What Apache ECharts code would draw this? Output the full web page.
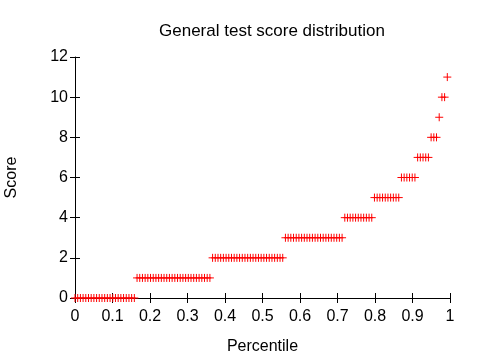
<!DOCTYPE html>
<html>
<head>
<meta charset="utf-8">
<script src="https://cdn.jsdelivr.net/npm/echarts@6/dist/echarts.min.js"></script>
<style>html,body{margin:0;padding:0;background:#fff}#c{width:480px;height:360px}</style>
</head>
<body>
<div id="c"></div>
<script>
// Number of test takers at each score
var scores = [0, 1, 2, 3, 4, 5, 6, 7, 8, 9, 10, 11];
var scoreCounts = [23, 28, 27, 22, 11, 10, 6, 5, 3, 1, 2, 1];
var xTicks = [0, 0.1, 0.2, 0.3, 0.4, 0.5, 0.6, 0.7, 0.8, 0.9, 1];
var yTicks = [0, 2, 4, 6, 8, 10, 12];

// Percentile of each sorted sample = rank / total
var total = scoreCounts.reduce(function (a, b) { return a + b; }, 0);
var points = [];
var rank = 0;
scores.forEach(function (s, k) {
  for (var j = 0; j < scoreCounts[k]; j++) {
    points.push([rank / total, s]);
    rank++;
  }
});

var font = 'Liberation Sans, Arial, sans-serif';
var chart = echarts.init(document.getElementById('c'), null, {renderer: 'canvas'});
var tickStyle = {show: true, inside: true, length: 5, lineStyle: {color: '#000', width: 1}};
chart.setOption({
  animation: false,
  backgroundColor: '#fff',
  title: {
    text: 'General test score distribution',
    left: 154, top: 18,
    textStyle: {fontFamily: font, fontSize: 17, fontWeight: 'normal', color: '#000'}
  },
  grid: {left: 75, right: 30, top: 57, bottom: 62, containLabel: false, outerBoundsMode: 'none'},
  xAxis: [{
    type: 'value', min: xTicks[0], max: xTicks[xTicks.length - 1], interval: 0.1,
    name: 'Percentile', nameLocation: 'middle', nameGap: 41,
    nameTextStyle: {fontFamily: font, fontSize: 16, color: '#000'},
    axisLine: {show: true, lineStyle: {color: '#000', width: 1}},
    axisTick: tickStyle,
    axisLabel: {fontFamily: font, fontSize: 16, color: '#000', margin: 11},
    splitLine: {show: false}
  }, {
    type: 'value', position: 'top', min: xTicks[0], max: xTicks[xTicks.length - 1], interval: 0.1,
    axisLine: {show: false}, axisTick: tickStyle, axisLabel: {show: false}, splitLine: {show: false}
  }],
  yAxis: [{
    type: 'value', min: yTicks[0], max: yTicks[yTicks.length - 1], interval: 2,
    name: 'Score', nameLocation: 'middle', nameGap: 55, nameRotate: 90,
    nameTextStyle: {fontFamily: font, fontSize: 16, color: '#000'},
    axisLine: {show: true, lineStyle: {color: '#000', width: 1}},
    axisTick: tickStyle,
    axisLabel: {fontFamily: font, fontSize: 16, color: '#000', margin: 7},
    splitLine: {show: false}
  }, {
    type: 'value', position: 'right', min: yTicks[0], max: yTicks[yTicks.length - 1], interval: 2,
    axisLine: {show: false}, axisTick: tickStyle, axisLabel: {show: false}, splitLine: {show: false}
  }],
  series: [{
    type: 'scatter',
    xAxisIndex: 0, yAxisIndex: 0,
    data: points,
    symbol: 'path://M0,5L10,5M5,0L5,10',
    symbolSize: 8,
    itemStyle: {color: 'rgba(0,0,0,0)', borderColor: '#ff0000', borderWidth: 1, opacity: 1},
    emphasis: {disabled: true}
  }]
});
</script>
</body>
</html>
